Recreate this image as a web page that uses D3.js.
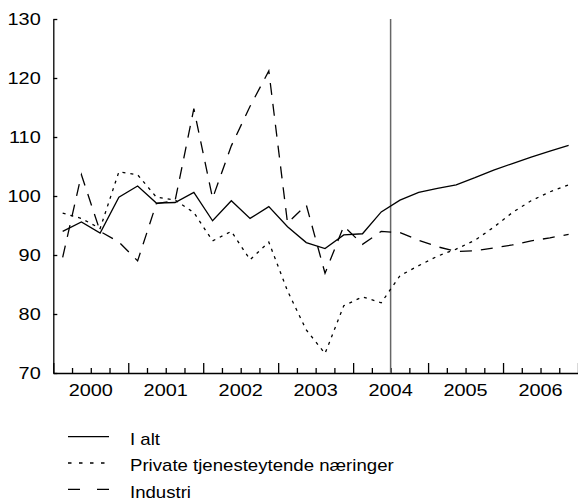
<!DOCTYPE html>
<html>
<head>
<meta charset="utf-8">
<script src="https://cdn.jsdelivr.net/npm/d3@7"></script>
<style>
  body { margin: 0; background: #fff; }
  svg { display: block; }
  text { font-family: "Liberation Sans", Arial, sans-serif; fill: #000; }
</style>
</head>
<body>
<svg width="578" height="501"></svg>
<script>
// Quarterly index values, 2000Q1 - 2006Q4
const years = [2000, 2001, 2002, 2003, 2004, 2005, 2006];
const yTicks = [70, 80, 90, 100, 110, 120, 130];

const iAlt = [94.0, 95.6, 93.7, 99.8, 101.7, 98.8, 98.9, 100.6, 95.8, 99.2, 96.2, 98.2, 94.8, 92.1,
    91.1, 93.4, 93.6, 97.3, 99.3, 100.6, 101.3, 101.9, 103.1, 104.4, 105.5, 106.6, 107.6, 108.6];
const privateTj = [97.1, 96.2, 94.5, 104.1, 103.6, 99.8, 99.3, 97.2, 92.4, 94.0, 89.2, 92.2, 83.9, 77.3,
    73.3, 81.4, 82.9, 81.9, 86.5, 88.2, 89.8, 91.0, 92.5, 94.7, 97.2, 99.2, 100.7, 101.9];
const industri = [89.6, 103.6, 94.0, 92.2, 89.0, 98.7, 99.2, 114.8, 99.6, 108.5, 115.2, 121.2, 95.4, 98.5,
    86.9, 94.9, 91.8, 94.0, 93.8, 92.5, 91.4, 90.6, 90.7, 91.2, 91.7, 92.4, 92.9, 93.5];

// Forecast starts mid 2004
const splitYear = 2004.5;

const series = [
    { name: "I alt", values: iAlt, dash: null, legendDash: null },
    { name: "Private tjenesteytende næringer", values: privateTj, dash: "3,5", legendDash: "3.5,7.5" },
    { name: "Industri", values: industri, dash: "12,9", legendDash: "12,17" }
];

const svg = d3.select("svg");
const SX = 1.17;    // digits in the picture are a bit wider than the font
const SX_LEG = 1.095;

const x = d3.scaleLinear().domain([2000, 2007]).range([53.3, 578]);
const y = d3.scaleLinear().domain([70, 130]).range([373, 19]);

const quarterPos = i => years[0] + (i + 0.5) / 4;

// Axes, ticks pointing inwards
svg.append("g")
    .attr("transform", `translate(0,${y(70)})`)
    .call(d3.axisBottom(x)
        .tickValues(d3.range(2000, 2007.01, 0.25).filter(v => v % 1 !== 0))
        .tickSizeInner(-5).tickSizeOuter(0).tickFormat(""))
    .call(g => g.select(".domain").remove());

svg.append("g")
    .attr("transform", `translate(0,${y(70)})`)
    .call(d3.axisBottom(x)
        .tickValues(d3.range(2000, 2008))
        .tickSizeInner(-10).tickSizeOuter(0).tickFormat(""));

svg.append("g")
    .attr("transform", `translate(${x(2000)},0)`)
    .call(d3.axisLeft(y).tickValues(yTicks).tickSizeInner(-4).tickSizeOuter(0).tickFormat(""));

svg.selectAll("path.domain, .tick line")
    .attr("stroke", "#000")
    .attr("stroke-width", 1.3);

// Tick labels
svg.selectAll("text.ylab")
    .data(yTicks)
    .join("text")
    .attr("class", "ylab")
    .attr("text-anchor", "end")
    .attr("font-size", 17)
    .attr("transform", d => `translate(40.7,${y(d) + 6.2}) scale(${SX},1)`)
    .text(d => d);

svg.selectAll("text.xlab")
    .data(years)
    .join("text")
    .attr("class", "xlab")
    .attr("text-anchor", "middle")
    .attr("font-size", 17)
    .attr("transform", d => `translate(${x(d + 0.5)},395.7) scale(${SX},1)`)
    .text(d => d);

// Forecast split line
svg.append("line")
    .attr("x1", x(splitYear)).attr("x2", x(splitYear))
    .attr("y1", y(130)).attr("y2", y(70))
    .attr("stroke", "#666")
    .attr("stroke-width", 1.5);

const line = d3.line()
    .x((d, i) => x(quarterPos(i)))
    .y(d => y(d));

series.forEach(s => {
    svg.append("path")
        .datum(s.values)
        .attr("fill", "none")
        .attr("stroke", "#000")
        .attr("stroke-width", 1.3)
        .attr("stroke-dasharray", s.dash)
        .attr("d", line);
});

// Legend
const legend = svg.append("g");
series.forEach((s, i) => {
    const ly = 436.7 + i * 26.3;
    legend.append("line")
        .attr("x1", 68).attr("x2", 109)
        .attr("y1", ly).attr("y2", ly)
        .attr("stroke", "#000")
        .attr("stroke-width", 1.3)
        .attr("stroke-dasharray", s.legendDash);
    legend.append("text")
        .attr("font-size", 17)
        .attr("transform", `translate(130,${ly + 8.3}) scale(${SX_LEG},1)`)
        .text(s.name);
});
</script>
</body>
</html>
